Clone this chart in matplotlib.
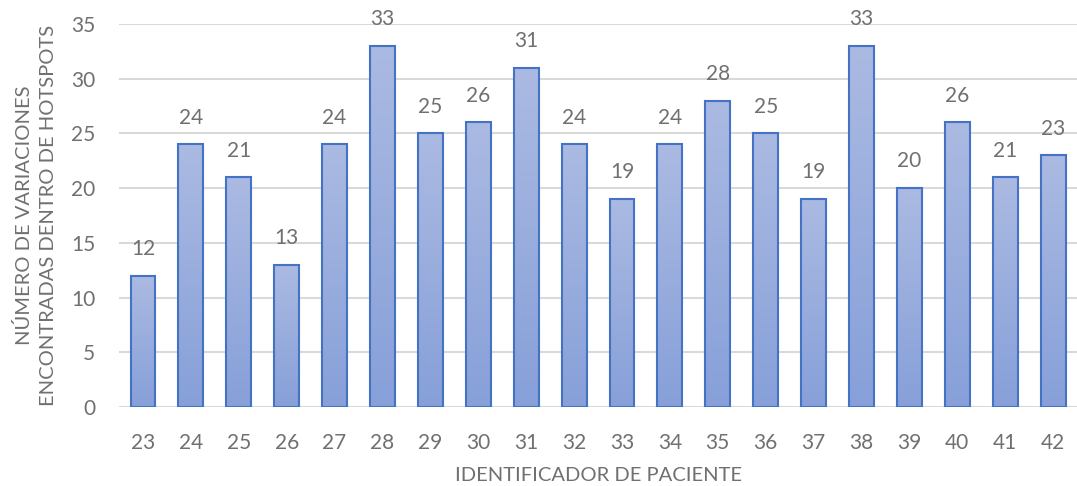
import numpy as np
import matplotlib
matplotlib.use("Agg")
import matplotlib.pyplot as plt
from matplotlib.colors import LinearSegmentedColormap

plt.rcParams["font.family"] = ["Lato", "DejaVu Sans"]

pacientes = ["23", "24", "25", "26", "27", "28", "29", "30", "31", "32",
             "33", "34", "35", "36", "37", "38", "39", "40", "41", "42"]
variaciones = [12, 24, 21, 13, 24, 33, 25, 26, 31, 24,
               19, 24, 28, 25, 19, 33, 20, 26, 21, 23]

text_color = "#707070"
grid_color = "#d9d9d9"
edge_color = "#4472c4"

fig = plt.figure(figsize=(10.77, 4.86), dpi=100)
ax = fig.add_axes([0.1105, 0.1626, 0.8895, 0.788])

x = np.arange(len(pacientes))
bars = ax.bar(x, variaciones, width=0.52, color="none", edgecolor=edge_color,
              linewidth=1.5, zorder=3)

# vertical gradient inside each bar, lighter at the top
grad_cmap = LinearSegmentedColormap.from_list("barfill", ["#87a0d9", "#abbae2"])
grad = np.linspace(0, 1, 256).reshape(-1, 1)
for b in bars:
    x0, y0 = b.get_x(), b.get_y()
    w, h = b.get_width(), b.get_height()
    img = ax.imshow(grad, cmap=grad_cmap, origin="lower", aspect="auto",
                    extent=[x0, x0 + w, y0, y0 + h], zorder=2)
    img.set_clip_path(b)

for xi, v in zip(x, variaciones):
    ax.annotate(str(v), (xi, v), xytext=(0, 12), textcoords="offset points",
                ha="center", va="bottom", fontsize=15, color=text_color)

ax.set_xlim(-0.5, len(pacientes) - 0.5)
ax.set_ylim(0, 35)
ax.set_yticks(range(0, 36, 5))
ax.set_xticks(x)
ax.set_xticklabels(pacientes)
ax.yaxis.grid(True, color=grid_color, linewidth=1.5, zorder=0)
ax.set_axisbelow(True)
for s in ax.spines.values():
    s.set_visible(False)
ax.tick_params(axis="both", length=0, labelsize=15, labelcolor=text_color)
ax.tick_params(axis="x", pad=18.5)
ax.tick_params(axis="y", pad=17)

ax.set_xlabel("IDENTIFICADOR DE PACIENTE", fontsize=14.5, color=text_color,
              labelpad=10)
ax.set_ylabel("NÚMERO DE VARIACIONES\nENCONTRADAS DENTRO DE HOTSPOTS",
              fontsize=14.5, color=text_color, labelpad=10, linespacing=1.55)

fig.savefig("out.png", dpi=100)
